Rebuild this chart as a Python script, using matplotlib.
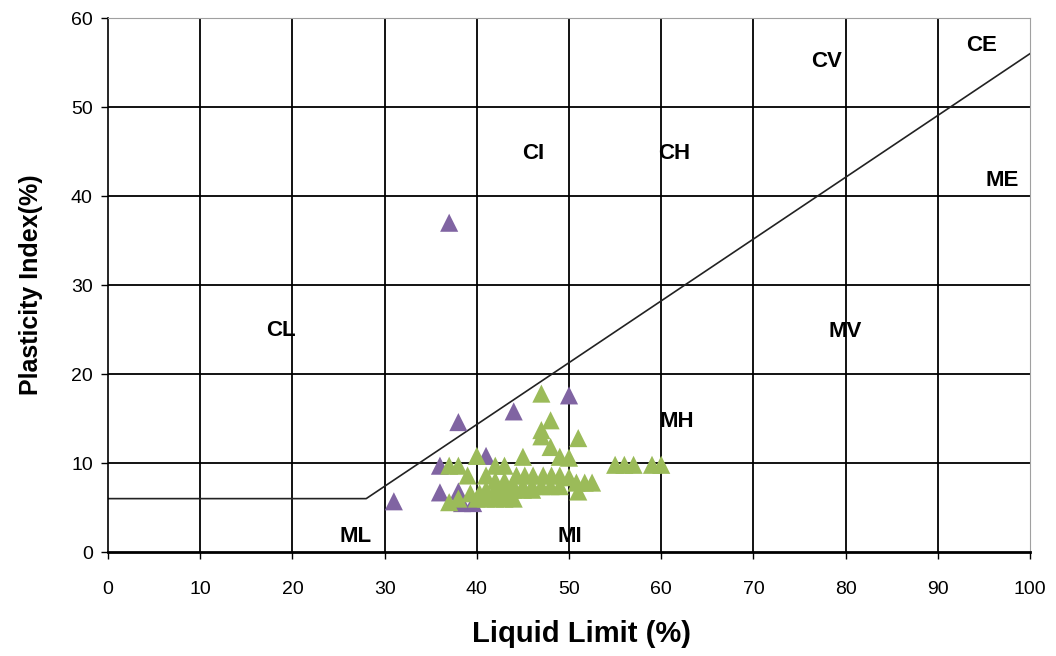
import matplotlib
matplotlib.use('Agg')
import matplotlib.pyplot as plt
from matplotlib.ticker import MultipleLocator

plt.rcParams['font.family'] = ['Liberation Sans', 'DejaVu Sans']

# A-line of the plasticity chart
aline_ll = [0, 28, 100]
aline_pi = [6, 6, 56]

# samples (liquid limit, plasticity index)
purple_ll = [37, 38, 44, 50, 31, 36, 36, 38, 41, 38.4, 39.6]
purple_pi = [37, 14.6, 15.8, 17.6, 5.7, 9.7, 6.7, 6.8, 10.8, 5.5, 5.5]

green_ll = [47, 48, 47, 47, 51, 48, 49, 50, 45, 40,
            37, 38, 42, 43, 55, 56, 57, 59, 60,
            39, 41, 44.3, 45.2, 46.1, 47.2, 48.1, 49, 50,
            42, 43, 50.8, 51.7, 52.5,
            44, 45, 46, 47, 48, 49,
            39.3, 40.3, 41, 42, 43, 44, 45, 46, 51,
            37, 38, 40, 41, 42, 43, 44]
green_pi = [17.8, 14.8, 13.7, 13, 12.8, 11.8, 10.7, 10.6, 10.7, 10.8,
            9.7, 9.7, 9.7, 9.7, 9.8, 9.8, 9.8, 9.8, 9.8,
            8.6, 8.6, 8.6, 8.6, 8.6, 8.6, 8.6, 8.6, 8.4,
            8, 8, 7.8, 7.8, 7.8,
            7.4, 7.4, 7.4, 7.4, 7.4, 7.4,
            6.6, 6.6, 7, 7, 7, 7, 7, 7, 6.8,
            5.6, 6, 6, 6, 6, 6, 6]

zone_names = ['CL', 'CI', 'CH', 'CV', 'CE', 'ME', 'MV', 'MH', 'ML', 'MI']
zone_ll = [18.7, 46.1, 61.4, 77.9, 94.7, 97.0, 80.0, 61.7, 26.8, 50.1]
zone_pi = [24.9, 44.8, 44.8, 55.1, 56.9, 41.8, 24.8, 14.7, 1.8, 1.8]

fig = plt.figure(figsize=(10.56, 6.56), dpi=100)
ax = fig.add_axes([0.1023, 0.1585, 0.8731, 0.8140])
ax.set_xlim(0, 100)
ax.set_ylim(0, 60)
ax.xaxis.set_major_locator(MultipleLocator(10))
ax.yaxis.set_major_locator(MultipleLocator(10))

# black grid, no line at the outer edges
for v in range(10, 100, 10):
    ax.axvline(v, color='black', lw=1.3, zorder=1)
for v in range(10, 60, 10):
    ax.axhline(v, color='black', lw=1.3, zorder=1)

ax.spines['top'].set_color('#a0a0a0')
ax.spines['right'].set_color('#a0a0a0')
ax.spines['left'].set_linewidth(1.2)
ax.spines['bottom'].set_linewidth(2.0)

ax.plot(aline_ll, aline_pi, color='#222222', lw=1.2, zorder=2)

ax.scatter(purple_ll, purple_pi, marker='^', s=170, color='#8064A2', edgecolors='none', zorder=3)
ax.scatter(green_ll, green_pi, marker='^', s=170, color='#9BBB59', edgecolors='none', zorder=4)

for n, x, y in zip(zone_names, zone_ll, zone_pi):
    ax.text(x, y, n, ha='center', va='center', fontsize=16, fontweight='bold', zorder=5)

ax.tick_params(direction='out', length=5, width=1, labelsize=14, pad=16)
ax.tick_params(axis='y', pad=6)
ax.set_xlabel('Liquid Limit (%)', fontsize=21, fontweight='bold')
ax.set_ylabel('Plasticity Index(%)', fontsize=18, fontweight='bold')
ax.xaxis.set_label_coords(0.513, -0.128)
ax.yaxis.set_label_coords(-0.07, 0.5)

plt.savefig('out.png', dpi=100)
